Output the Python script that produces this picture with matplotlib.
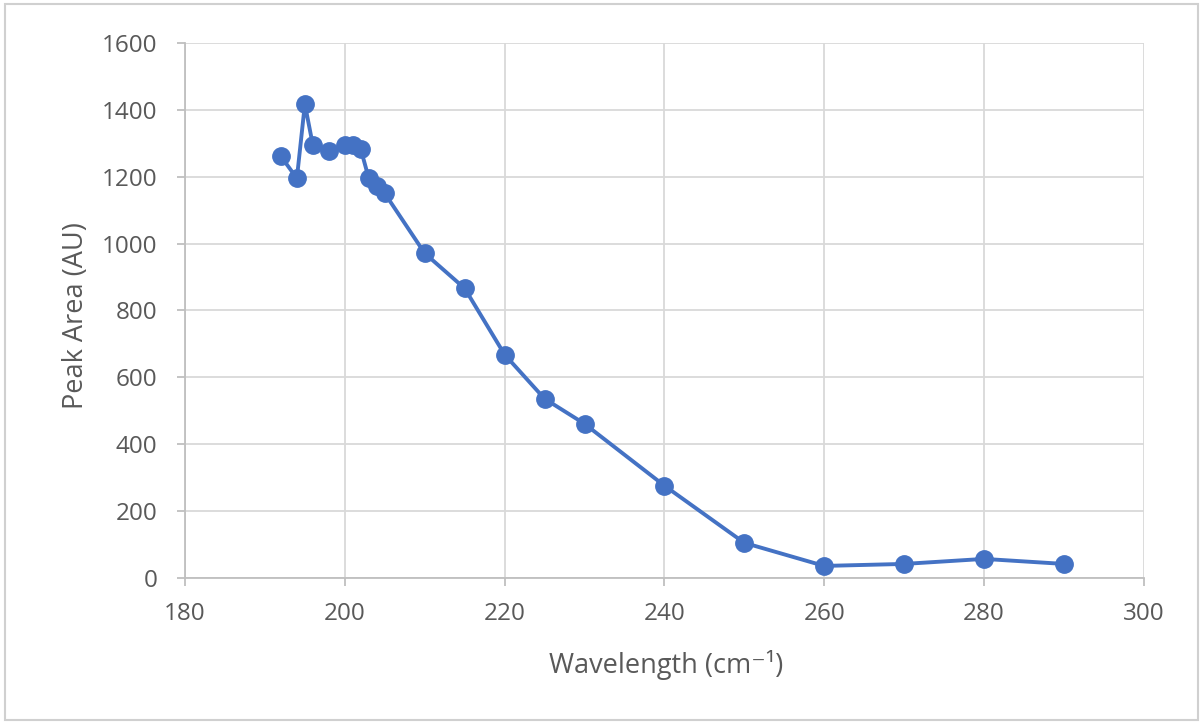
import matplotlib.pyplot as plt
from matplotlib.patches import Rectangle

wavelength = [192, 194, 195, 196, 198, 200, 201, 202, 203, 204, 205,
              210, 215, 220, 225, 230, 240, 250, 260, 270, 280, 290]
peak_area = [1261, 1195, 1417, 1294, 1276, 1294, 1294, 1282, 1195, 1171, 1150,
             971, 866, 668, 536, 461, 276, 105, 36, 42, 57, 42]

x_ticks = [180, 200, 220, 240, 260, 280, 300]
y_ticks = [0, 200, 400, 600, 800, 1000, 1200, 1400, 1600]

BLUE = "#4472C4"
GRID = "#D9D9D9"
TEXT = "#595959"

plt.rcParams["font.family"] = ["Open Sans", "DejaVu Sans"]

fig = plt.figure(figsize=(12.03, 7.24), dpi=100)
fig.patches.append(Rectangle((0.004, 0.006), 0.992, 0.988, transform=fig.transFigure,
                             fill=False, edgecolor="#D0D0D0", lw=1.5))
ax = fig.add_axes([0.1538, 0.2017, 0.797, 0.739])

ax.plot(wavelength, peak_area, color=BLUE, lw=2.8, marker="o", ms=12.5,
        markerfacecolor=BLUE, markeredgecolor=BLUE, zorder=3, clip_on=False)

ax.set_xlim(180, 300)
ax.set_ylim(0, 1600)
ax.set_xticks(x_ticks)
ax.set_yticks(y_ticks)
ax.grid(True, color=GRID, lw=1.3)
ax.set_axisbelow(True)
for s in ["top", "right"]:
    ax.spines[s].set_visible(False)
for s in ["left", "bottom"]:
    ax.spines[s].set_color("#BFBFBF")
    ax.spines[s].set_linewidth(1.3)
ax.tick_params(colors="#BFBFBF", labelcolor=TEXT, labelsize=17.5, length=6, width=1.3)
ax.tick_params(axis="x", pad=11)
ax.tick_params(axis="y", pad=14)

ax.set_xlabel("Wavelength (cm⁻¹)", color=TEXT, fontsize=19.5)
ax.set_ylabel("Peak Area (AU)", color=TEXT, fontsize=19.5)
ax.xaxis.set_label_coords(0.502, -0.135)
ax.yaxis.set_label_coords(-0.099, 0.49)

fig.savefig("out.png", dpi=100)
